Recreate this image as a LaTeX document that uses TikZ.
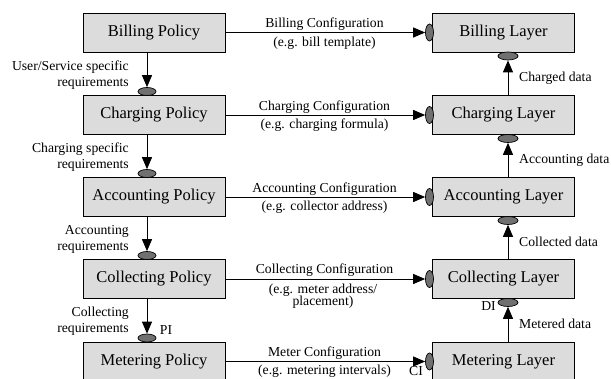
\documentclass[tikz,border=0pt]{standalone}
\usepackage{fontspec}
\setmainfont{Liberation Serif}
\usetikzlibrary{arrows.meta,shapes.geometric}
\definecolor{boxgray}{HTML}{DCDCDC}
\definecolor{ellgray}{HTML}{707070}
\tikzset{
  bx/.style={draw=black, line width=0.9pt, fill=boxgray, minimum width=142pt, minimum height=39pt, inner sep=0pt,
    font=\fontsize{16.5}{19}\selectfont},
  lbl/.style={inner sep=0pt, font=\fontsize{13.7}{16}\selectfont},
  hport/.style={ellipse, draw=black, line width=0.7pt, fill=ellgray, minimum width=8pt, minimum height=17pt, inner sep=0pt},
  vport/.style={ellipse, draw=black, line width=0.7pt, fill=ellgray, minimum width=18pt, minimum height=8pt, inner sep=0pt},
  conn/.style={line width=0.9pt, -{Triangle[length=12pt,width=10pt]}},
}
\begin{document}
\begin{tikzpicture}[x=1pt,y=-1pt]
\useasboundingbox (0,0) rectangle (611,379);
\clip (0,0) rectangle (611,379);
\fill[white] (0,0) rectangle (611,379);
% left boxes
\node[bx] (bp) at (154,32.5) {Billing Policy};
\node[bx] (cp) at (154,115) {Charging Policy};
\node[bx] (ap) at (154,197) {Accounting Policy};
\node[bx] (colp) at (154,279) {Collecting Policy};
\node[bx] (mp) at (154,361.5) {Metering Policy};
% right boxes
\node[bx] (bl) at (503.5,32.5) {Billing Layer};
\node[bx] (cl) at (503.5,115) {Charging Layer};
\node[bx] (al) at (503.5,197) {Accounting Layer};
\node[bx] (coll) at (503.5,279) {Collecting Layer};
\node[bx] (ml) at (503.5,361.5) {Metering Layer};
% horizontal ports
\node[hport] (hb) at (429.5,32.5) {};
\node[hport] (hc) at (429.5,115) {};
\node[hport] (ha) at (429.5,197) {};
\node[hport] (hco) at (429.5,279) {};
\node[hport] (hm) at (429.5,361.5) {};
\draw[conn] (bp.east) -- (hb.west);
\draw[conn] (cp.east) -- (hc.west);
\draw[conn] (ap.east) -- (ha.west);
\draw[conn] (colp.east) -- (hco.west);
\draw[conn] (mp.east) -- (hm.west);
% configuration labels
\node[lbl] (lb1) at (324.5,24.5) {Billing Configuration};
\node[lbl] (lb2) at (324.5,43) {(e.g. bill template)};
\node[lbl] (lc1) at (324.5,107) {Charging Configuration};
\node[lbl] (lc2) at (324.5,125) {(e.g. charging formula)};
\node[lbl] (la1) at (324.5,189) {Accounting Configuration};
\node[lbl] (la2) at (324.5,207) {(e.g. collector address)};
\node[lbl] (lco1) at (324.5,270.5) {Collecting Configuration};
\node[lbl, align=center, font=\fontsize{13.7}{12.5}\selectfont] (lco2) at (323,296) {(e.g. meter address/\\placement)};
\node[lbl] (lm1) at (324.5,353) {Meter Configuration};
\node[lbl] (lm2) at (324.5,371.5) {(e.g. metering intervals)};
% left vertical ports and arrows
\node[vport] (vc) at (147,91.5) {};
\node[vport] (va) at (147,173.5) {};
\node[vport] (vco) at (147,255.5) {};
\node[vport] (vm) at (147,338) {};
\draw[conn] (vc |- bp.south) -- (vc.north);
\draw[conn] (va |- cp.south) -- (va.north);
\draw[conn] (vco |- ap.south) -- (vco.north);
\draw[conn] (vm |- colp.south) -- (vm.north);
\node[lbl, anchor=east, align=right] (rq1) at (129,75) {User/Service specific\\requirements};
\node[lbl, anchor=east, align=right] (rq2) at (129,157) {Charging specific\\requirements};
\node[lbl, anchor=east, align=right] (rq3) at (129,239) {Accounting\\requirements};
\node[lbl, anchor=east, align=right] (rq4) at (129,321) {Collecting\\requirements};
\node[lbl] (pi) at (166,330) {PI};
% right vertical ports and arrows
\node[vport, minimum width=20pt] (ub) at (508,56) {};
\node[vport, minimum width=20pt] (uc) at (508,138.5) {};
\node[vport, minimum width=20pt] (ua) at (508,220.5) {};
\node[vport, minimum width=20pt] (uco) at (508,302.5) {};
\draw[conn] (ub |- cl.north) -- (ub.south);
\draw[conn] (uc |- al.north) -- (uc.south);
\draw[conn] (ua |- coll.north) -- (ua.south);
\draw[conn] (uco |- ml.north) -- (uco.south);
\node[lbl, anchor=west] (dd1) at (519,78.5) {Charged data};
\node[lbl, anchor=west] (dd2) at (519,160) {Accounting data};
\node[lbl, anchor=west] (dd3) at (519,242) {Collected data};
\node[lbl, anchor=west] (dd4) at (519,323.5) {Metered data};
\node[lbl] (di) at (488.5,306) {DI};
\node[lbl] (ci) at (416,371) {CI};
\end{tikzpicture}
\end{document}
